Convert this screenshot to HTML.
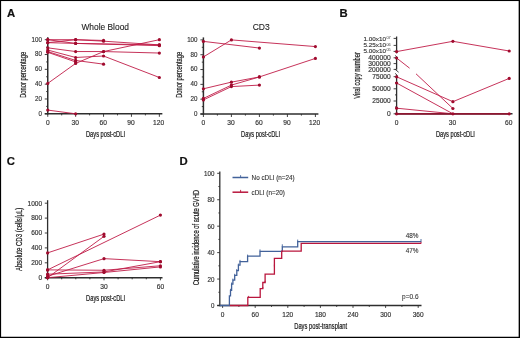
<!DOCTYPE html><html><head><meta charset="utf-8"><style>html,body{margin:0;padding:0;background:#fff;}svg{display:block;will-change:transform;font-family:"Liberation Sans",sans-serif;}</style></head><body>
<svg width="520" height="338" viewBox="0 0 520 338">
<rect x="0" y="0" width="520" height="338" fill="#fff"/>
<text x="6.9" y="16.5" font-size="11.3" text-anchor="start" fill="#111" stroke="#111" stroke-width="0.2" font-weight="bold">A</text>
<text x="339.6" y="16.8" font-size="11.3" text-anchor="start" fill="#111" stroke="#111" stroke-width="0.2" font-weight="bold">B</text>
<text x="6.8" y="164.8" font-size="11.3" text-anchor="start" fill="#111" stroke="#111" stroke-width="0.2" font-weight="bold">C</text>
<text x="179.6" y="164.8" font-size="11.3" text-anchor="start" fill="#111" stroke="#111" stroke-width="0.2" font-weight="bold">D</text>
<line x1="47.75" y1="37.2" x2="47.75" y2="114.6" stroke="#2e2e2e" stroke-width="1.5"/>
<line x1="44.75" y1="113.8" x2="162.35" y2="113.8" stroke="#2e2e2e" stroke-width="1.6"/>
<line x1="44.75" y1="113.8" x2="47.75" y2="113.8" stroke="#2e2e2e" stroke-width="0.9"/>
<line x1="46.15" y1="106.39" x2="47.75" y2="106.39" stroke="#2e2e2e" stroke-width="0.9"/>
<line x1="44.75" y1="98.98" x2="47.75" y2="98.98" stroke="#2e2e2e" stroke-width="0.9"/>
<line x1="46.15" y1="91.57" x2="47.75" y2="91.57" stroke="#2e2e2e" stroke-width="0.9"/>
<line x1="44.75" y1="84.16" x2="47.75" y2="84.16" stroke="#2e2e2e" stroke-width="0.9"/>
<line x1="46.15" y1="76.75" x2="47.75" y2="76.75" stroke="#2e2e2e" stroke-width="0.9"/>
<line x1="44.75" y1="69.34" x2="47.75" y2="69.34" stroke="#2e2e2e" stroke-width="0.9"/>
<line x1="46.15" y1="61.93" x2="47.75" y2="61.93" stroke="#2e2e2e" stroke-width="0.9"/>
<line x1="44.75" y1="54.52" x2="47.75" y2="54.52" stroke="#2e2e2e" stroke-width="0.9"/>
<line x1="46.15" y1="47.11" x2="47.75" y2="47.11" stroke="#2e2e2e" stroke-width="0.9"/>
<line x1="44.75" y1="39.7" x2="47.75" y2="39.7" stroke="#2e2e2e" stroke-width="0.9"/>
<line x1="47.75" y1="113.8" x2="47.75" y2="116.8" stroke="#2e2e2e" stroke-width="0.9"/>
<line x1="61.7" y1="113.8" x2="61.7" y2="115.4" stroke="#2e2e2e" stroke-width="0.9"/>
<line x1="75.65" y1="113.8" x2="75.65" y2="116.8" stroke="#2e2e2e" stroke-width="0.9"/>
<line x1="89.6" y1="113.8" x2="89.6" y2="115.4" stroke="#2e2e2e" stroke-width="0.9"/>
<line x1="103.55" y1="113.8" x2="103.55" y2="116.8" stroke="#2e2e2e" stroke-width="0.9"/>
<line x1="117.5" y1="113.8" x2="117.5" y2="115.4" stroke="#2e2e2e" stroke-width="0.9"/>
<line x1="131.45" y1="113.8" x2="131.45" y2="116.8" stroke="#2e2e2e" stroke-width="0.9"/>
<line x1="145.4" y1="113.8" x2="145.4" y2="115.4" stroke="#2e2e2e" stroke-width="0.9"/>
<line x1="159.35" y1="113.8" x2="159.35" y2="116.8" stroke="#2e2e2e" stroke-width="0.9"/>
<text x="41.85" y="115.69" font-size="6.4" text-anchor="end" fill="#333333" stroke="#333333" stroke-width="0.16" textLength="3.45" lengthAdjust="spacingAndGlyphs">0</text>
<text x="41.85" y="100.87" font-size="6.4" text-anchor="end" fill="#333333" stroke="#333333" stroke-width="0.16" textLength="6.9" lengthAdjust="spacingAndGlyphs">20</text>
<text x="41.85" y="86.05" font-size="6.4" text-anchor="end" fill="#333333" stroke="#333333" stroke-width="0.16" textLength="6.9" lengthAdjust="spacingAndGlyphs">40</text>
<text x="41.85" y="71.23" font-size="6.4" text-anchor="end" fill="#333333" stroke="#333333" stroke-width="0.16" textLength="6.9" lengthAdjust="spacingAndGlyphs">60</text>
<text x="41.85" y="56.41" font-size="6.4" text-anchor="end" fill="#333333" stroke="#333333" stroke-width="0.16" textLength="6.9" lengthAdjust="spacingAndGlyphs">80</text>
<text x="41.85" y="41.59" font-size="6.4" text-anchor="end" fill="#333333" stroke="#333333" stroke-width="0.16" textLength="10.35" lengthAdjust="spacingAndGlyphs">100</text>
<text x="47.75" y="125.09" font-size="6.4" text-anchor="middle" fill="#333333" stroke="#333333" stroke-width="0.16" textLength="3.7" lengthAdjust="spacingAndGlyphs">0</text>
<text x="75.25" y="125.09" font-size="6.4" text-anchor="middle" fill="#333333" stroke="#333333" stroke-width="0.16" textLength="7.4" lengthAdjust="spacingAndGlyphs">30</text>
<text x="103.15" y="125.09" font-size="6.4" text-anchor="middle" fill="#333333" stroke="#333333" stroke-width="0.16" textLength="7.4" lengthAdjust="spacingAndGlyphs">60</text>
<text x="131.05" y="125.09" font-size="6.4" text-anchor="middle" fill="#333333" stroke="#333333" stroke-width="0.16" textLength="7.4" lengthAdjust="spacingAndGlyphs">90</text>
<text x="158.55" y="125.09" font-size="6.4" text-anchor="middle" fill="#333333" stroke="#333333" stroke-width="0.16" textLength="11.1" lengthAdjust="spacingAndGlyphs">120</text>
<polyline points="47.75,39.7 75.65,39.7 103.55,41.18 159.35,44.89" fill="none" stroke="#c01c47" stroke-width="0.9" stroke-linejoin="round"/>
<polyline points="47.75,42.66 75.65,39.7 103.55,40.44" fill="none" stroke="#c01c47" stroke-width="0.9" stroke-linejoin="round"/>
<polyline points="47.75,39.7 75.65,43.41 159.35,44.89" fill="none" stroke="#c01c47" stroke-width="0.9" stroke-linejoin="round"/>
<polyline points="47.75,42.66 75.65,43.41 159.35,45.63" fill="none" stroke="#c01c47" stroke-width="0.9" stroke-linejoin="round"/>
<polyline points="47.75,47.85 75.65,51.56 103.55,51.56 159.35,53.04" fill="none" stroke="#c01c47" stroke-width="0.9" stroke-linejoin="round"/>
<polyline points="47.75,50.07 75.65,57.48 103.55,56 159.35,77.49" fill="none" stroke="#c01c47" stroke-width="0.9" stroke-linejoin="round"/>
<polyline points="47.75,51.56 75.65,60.45 103.55,64.15" fill="none" stroke="#c01c47" stroke-width="0.9" stroke-linejoin="round"/>
<polyline points="47.75,52.3 75.65,61.93" fill="none" stroke="#c01c47" stroke-width="0.9" stroke-linejoin="round"/>
<polyline points="47.75,83.42 75.65,63.41 103.55,51.56 159.35,39.7" fill="none" stroke="#c01c47" stroke-width="0.9" stroke-linejoin="round"/>
<polyline points="47.75,110.09 75.65,113.8" fill="none" stroke="#c01c47" stroke-width="0.9" stroke-linejoin="round"/>
<circle cx="47.75" cy="39.7" r="1.6" fill="#a00b2e"/>
<circle cx="75.65" cy="39.7" r="1.6" fill="#a00b2e"/>
<circle cx="103.55" cy="41.18" r="1.6" fill="#a00b2e"/>
<circle cx="159.35" cy="44.89" r="1.6" fill="#a00b2e"/>
<circle cx="47.75" cy="42.66" r="1.6" fill="#a00b2e"/>
<circle cx="75.65" cy="39.7" r="1.6" fill="#a00b2e"/>
<circle cx="103.55" cy="40.44" r="1.6" fill="#a00b2e"/>
<circle cx="47.75" cy="39.7" r="1.6" fill="#a00b2e"/>
<circle cx="75.65" cy="43.41" r="1.6" fill="#a00b2e"/>
<circle cx="159.35" cy="44.89" r="1.6" fill="#a00b2e"/>
<circle cx="47.75" cy="42.66" r="1.6" fill="#a00b2e"/>
<circle cx="75.65" cy="43.41" r="1.6" fill="#a00b2e"/>
<circle cx="159.35" cy="45.63" r="1.6" fill="#a00b2e"/>
<circle cx="47.75" cy="47.85" r="1.6" fill="#a00b2e"/>
<circle cx="75.65" cy="51.56" r="1.6" fill="#a00b2e"/>
<circle cx="103.55" cy="51.56" r="1.6" fill="#a00b2e"/>
<circle cx="159.35" cy="53.04" r="1.6" fill="#a00b2e"/>
<circle cx="47.75" cy="50.07" r="1.6" fill="#a00b2e"/>
<circle cx="75.65" cy="57.48" r="1.6" fill="#a00b2e"/>
<circle cx="103.55" cy="56" r="1.6" fill="#a00b2e"/>
<circle cx="159.35" cy="77.49" r="1.6" fill="#a00b2e"/>
<circle cx="47.75" cy="51.56" r="1.6" fill="#a00b2e"/>
<circle cx="75.65" cy="60.45" r="1.6" fill="#a00b2e"/>
<circle cx="103.55" cy="64.15" r="1.6" fill="#a00b2e"/>
<circle cx="47.75" cy="52.3" r="1.6" fill="#a00b2e"/>
<circle cx="75.65" cy="61.93" r="1.6" fill="#a00b2e"/>
<circle cx="47.75" cy="83.42" r="1.6" fill="#a00b2e"/>
<circle cx="75.65" cy="63.41" r="1.6" fill="#a00b2e"/>
<circle cx="103.55" cy="51.56" r="1.6" fill="#a00b2e"/>
<circle cx="159.35" cy="39.7" r="1.6" fill="#a00b2e"/>
<circle cx="47.75" cy="110.09" r="1.6" fill="#a00b2e"/>
<circle cx="75.65" cy="113.8" r="1.6" fill="#a00b2e"/>
<text x="81.4" y="30.2" font-size="8.4" text-anchor="start" fill="#222" stroke="#222" stroke-width="0.1" textLength="47.6" lengthAdjust="spacingAndGlyphs">Whole Blood</text>
<text x="25.71" y="74.8" font-size="8.4" text-anchor="middle" fill="#1e1e1e" stroke="#1e1e1e" stroke-width="0.22" textLength="46" lengthAdjust="spacingAndGlyphs" transform="rotate(-90 25.71 74.8)">Donor percentage</text>
<text x="105.5" y="137.3" font-size="8.2" text-anchor="middle" fill="#1e1e1e" stroke="#1e1e1e" stroke-width="0.22" textLength="39" lengthAdjust="spacingAndGlyphs">Days post-cDLI</text>
<line x1="203.4" y1="37.4" x2="203.4" y2="114.8" stroke="#2e2e2e" stroke-width="1.5"/>
<line x1="200.4" y1="114" x2="318.4" y2="114" stroke="#2e2e2e" stroke-width="1.6"/>
<line x1="200.4" y1="114" x2="203.4" y2="114" stroke="#2e2e2e" stroke-width="0.9"/>
<line x1="201.8" y1="106.59" x2="203.4" y2="106.59" stroke="#2e2e2e" stroke-width="0.9"/>
<line x1="200.4" y1="99.18" x2="203.4" y2="99.18" stroke="#2e2e2e" stroke-width="0.9"/>
<line x1="201.8" y1="91.77" x2="203.4" y2="91.77" stroke="#2e2e2e" stroke-width="0.9"/>
<line x1="200.4" y1="84.36" x2="203.4" y2="84.36" stroke="#2e2e2e" stroke-width="0.9"/>
<line x1="201.8" y1="76.95" x2="203.4" y2="76.95" stroke="#2e2e2e" stroke-width="0.9"/>
<line x1="200.4" y1="69.54" x2="203.4" y2="69.54" stroke="#2e2e2e" stroke-width="0.9"/>
<line x1="201.8" y1="62.13" x2="203.4" y2="62.13" stroke="#2e2e2e" stroke-width="0.9"/>
<line x1="200.4" y1="54.72" x2="203.4" y2="54.72" stroke="#2e2e2e" stroke-width="0.9"/>
<line x1="201.8" y1="47.31" x2="203.4" y2="47.31" stroke="#2e2e2e" stroke-width="0.9"/>
<line x1="200.4" y1="39.9" x2="203.4" y2="39.9" stroke="#2e2e2e" stroke-width="0.9"/>
<line x1="203.4" y1="114" x2="203.4" y2="117" stroke="#2e2e2e" stroke-width="0.9"/>
<line x1="217.4" y1="114" x2="217.4" y2="115.6" stroke="#2e2e2e" stroke-width="0.9"/>
<line x1="231.4" y1="114" x2="231.4" y2="117" stroke="#2e2e2e" stroke-width="0.9"/>
<line x1="245.4" y1="114" x2="245.4" y2="115.6" stroke="#2e2e2e" stroke-width="0.9"/>
<line x1="259.4" y1="114" x2="259.4" y2="117" stroke="#2e2e2e" stroke-width="0.9"/>
<line x1="273.4" y1="114" x2="273.4" y2="115.6" stroke="#2e2e2e" stroke-width="0.9"/>
<line x1="287.4" y1="114" x2="287.4" y2="117" stroke="#2e2e2e" stroke-width="0.9"/>
<line x1="301.4" y1="114" x2="301.4" y2="115.6" stroke="#2e2e2e" stroke-width="0.9"/>
<line x1="315.4" y1="114" x2="315.4" y2="117" stroke="#2e2e2e" stroke-width="0.9"/>
<text x="197.5" y="115.89" font-size="6.4" text-anchor="end" fill="#333333" stroke="#333333" stroke-width="0.16" textLength="3.45" lengthAdjust="spacingAndGlyphs">0</text>
<text x="197.5" y="101.07" font-size="6.4" text-anchor="end" fill="#333333" stroke="#333333" stroke-width="0.16" textLength="6.9" lengthAdjust="spacingAndGlyphs">20</text>
<text x="197.5" y="86.25" font-size="6.4" text-anchor="end" fill="#333333" stroke="#333333" stroke-width="0.16" textLength="6.9" lengthAdjust="spacingAndGlyphs">40</text>
<text x="197.5" y="71.43" font-size="6.4" text-anchor="end" fill="#333333" stroke="#333333" stroke-width="0.16" textLength="6.9" lengthAdjust="spacingAndGlyphs">60</text>
<text x="197.5" y="56.61" font-size="6.4" text-anchor="end" fill="#333333" stroke="#333333" stroke-width="0.16" textLength="6.9" lengthAdjust="spacingAndGlyphs">80</text>
<text x="197.5" y="41.79" font-size="6.4" text-anchor="end" fill="#333333" stroke="#333333" stroke-width="0.16" textLength="10.35" lengthAdjust="spacingAndGlyphs">100</text>
<text x="203.4" y="125.09" font-size="6.4" text-anchor="middle" fill="#333333" stroke="#333333" stroke-width="0.16" textLength="3.7" lengthAdjust="spacingAndGlyphs">0</text>
<text x="231" y="125.09" font-size="6.4" text-anchor="middle" fill="#333333" stroke="#333333" stroke-width="0.16" textLength="7.4" lengthAdjust="spacingAndGlyphs">30</text>
<text x="259" y="125.09" font-size="6.4" text-anchor="middle" fill="#333333" stroke="#333333" stroke-width="0.16" textLength="7.4" lengthAdjust="spacingAndGlyphs">60</text>
<text x="287" y="125.09" font-size="6.4" text-anchor="middle" fill="#333333" stroke="#333333" stroke-width="0.16" textLength="7.4" lengthAdjust="spacingAndGlyphs">90</text>
<text x="314.6" y="125.09" font-size="6.4" text-anchor="middle" fill="#333333" stroke="#333333" stroke-width="0.16" textLength="11.1" lengthAdjust="spacingAndGlyphs">120</text>
<polyline points="203.4,41.38 259.4,48.05" fill="none" stroke="#c01c47" stroke-width="0.9" stroke-linejoin="round"/>
<polyline points="203.4,56.94 231.4,39.9 315.4,46.57" fill="none" stroke="#c01c47" stroke-width="0.9" stroke-linejoin="round"/>
<polyline points="203.4,88.81 231.4,82.14 259.4,76.95 315.4,58.42" fill="none" stroke="#c01c47" stroke-width="0.9" stroke-linejoin="round"/>
<polyline points="203.4,98.44 231.4,85.1 259.4,76.95" fill="none" stroke="#c01c47" stroke-width="0.9" stroke-linejoin="round"/>
<polyline points="203.4,99.92 231.4,86.58 259.4,85.1" fill="none" stroke="#c01c47" stroke-width="0.9" stroke-linejoin="round"/>
<circle cx="203.4" cy="41.38" r="1.6" fill="#a00b2e"/>
<circle cx="259.4" cy="48.05" r="1.6" fill="#a00b2e"/>
<circle cx="203.4" cy="56.94" r="1.6" fill="#a00b2e"/>
<circle cx="231.4" cy="39.9" r="1.6" fill="#a00b2e"/>
<circle cx="315.4" cy="46.57" r="1.6" fill="#a00b2e"/>
<circle cx="203.4" cy="88.81" r="1.6" fill="#a00b2e"/>
<circle cx="231.4" cy="82.14" r="1.6" fill="#a00b2e"/>
<circle cx="259.4" cy="76.95" r="1.6" fill="#a00b2e"/>
<circle cx="315.4" cy="58.42" r="1.6" fill="#a00b2e"/>
<circle cx="203.4" cy="98.44" r="1.6" fill="#a00b2e"/>
<circle cx="231.4" cy="85.1" r="1.6" fill="#a00b2e"/>
<circle cx="259.4" cy="76.95" r="1.6" fill="#a00b2e"/>
<circle cx="203.4" cy="99.92" r="1.6" fill="#a00b2e"/>
<circle cx="231.4" cy="86.58" r="1.6" fill="#a00b2e"/>
<circle cx="259.4" cy="85.1" r="1.6" fill="#a00b2e"/>
<text x="252.7" y="30.2" font-size="8.4" text-anchor="start" fill="#222" stroke="#222" stroke-width="0.1" textLength="17.1" lengthAdjust="spacingAndGlyphs">CD3</text>
<text x="181.91" y="74.8" font-size="8.4" text-anchor="middle" fill="#1e1e1e" stroke="#1e1e1e" stroke-width="0.22" textLength="46" lengthAdjust="spacingAndGlyphs" transform="rotate(-90 181.91 74.8)">Donor percentage</text>
<text x="260.6" y="137.3" font-size="8.2" text-anchor="middle" fill="#1e1e1e" stroke="#1e1e1e" stroke-width="0.22" textLength="39" lengthAdjust="spacingAndGlyphs">Days post-cDLI</text>
<line x1="396.6" y1="36.5" x2="396.6" y2="53.3" stroke="#2e2e2e" stroke-width="1.3"/>
<line x1="396.6" y1="57.2" x2="396.6" y2="69.5" stroke="#2e2e2e" stroke-width="1.3"/>
<line x1="396.6" y1="75.2" x2="396.6" y2="114.6" stroke="#2e2e2e" stroke-width="1.3"/>
<line x1="395.1" y1="55.5" x2="397.9" y2="57.7" stroke="#2e2e2e" stroke-width="0.9"/>
<line x1="395" y1="69.2" x2="398.6" y2="72.2" stroke="#2e2e2e" stroke-width="0.9"/>
<line x1="395.1" y1="73.4" x2="397.5" y2="75.5" stroke="#2e2e2e" stroke-width="0.9"/>
<line x1="393.6" y1="38.4" x2="396.6" y2="38.4" stroke="#2e2e2e" stroke-width="0.9"/>
<line x1="393.6" y1="45.4" x2="396.6" y2="45.4" stroke="#2e2e2e" stroke-width="0.9"/>
<line x1="393.6" y1="51.4" x2="396.6" y2="51.4" stroke="#2e2e2e" stroke-width="0.9"/>
<line x1="393.6" y1="57.8" x2="396.6" y2="57.8" stroke="#2e2e2e" stroke-width="0.9"/>
<line x1="393.6" y1="63.6" x2="396.6" y2="63.6" stroke="#2e2e2e" stroke-width="0.9"/>
<line x1="393.6" y1="69.4" x2="396.6" y2="69.4" stroke="#2e2e2e" stroke-width="0.9"/>
<line x1="393.6" y1="76.7" x2="396.6" y2="76.7" stroke="#2e2e2e" stroke-width="0.9"/>
<line x1="393.6" y1="88.8" x2="396.6" y2="88.8" stroke="#2e2e2e" stroke-width="0.9"/>
<line x1="393.6" y1="101" x2="396.6" y2="101" stroke="#2e2e2e" stroke-width="0.9"/>
<line x1="393.6" y1="113.8" x2="396.6" y2="113.8" stroke="#2e2e2e" stroke-width="0.9"/>
<line x1="395" y1="82.8" x2="396.6" y2="82.8" stroke="#2e2e2e" stroke-width="0.9"/>
<line x1="395" y1="94.9" x2="396.6" y2="94.9" stroke="#2e2e2e" stroke-width="0.9"/>
<line x1="395" y1="107" x2="396.6" y2="107" stroke="#2e2e2e" stroke-width="0.9"/>
<line x1="395.2" y1="113.8" x2="512.5" y2="113.8" stroke="#2e2e2e" stroke-width="1.6"/>
<text x="386" y="40.98" font-size="6.1" text-anchor="end" fill="#333333" stroke="#333333" stroke-width="0.14" textLength="22.4" lengthAdjust="spacingAndGlyphs">1.00x10</text>
<text x="390.8" y="39.3" font-size="3.8" text-anchor="end" fill="#333333" textLength="4.4" lengthAdjust="spacingAndGlyphs">07</text>
<text x="386" y="47.18" font-size="6.1" text-anchor="end" fill="#333333" stroke="#333333" stroke-width="0.14" textLength="22.4" lengthAdjust="spacingAndGlyphs">5.25x10</text>
<text x="390.8" y="45.5" font-size="3.8" text-anchor="end" fill="#333333" textLength="4.4" lengthAdjust="spacingAndGlyphs">06</text>
<text x="386" y="52.58" font-size="6.1" text-anchor="end" fill="#333333" stroke="#333333" stroke-width="0.14" textLength="22.4" lengthAdjust="spacingAndGlyphs">5.00x10</text>
<text x="390.8" y="50.9" font-size="3.8" text-anchor="end" fill="#333333" textLength="4.4" lengthAdjust="spacingAndGlyphs">05</text>
<text x="390.7" y="59.69" font-size="6.4" text-anchor="end" fill="#333333" stroke="#333333" stroke-width="0.16" textLength="22.4" lengthAdjust="spacingAndGlyphs">400000</text>
<text x="390.7" y="65.89" font-size="6.4" text-anchor="end" fill="#333333" stroke="#333333" stroke-width="0.16" textLength="22.4" lengthAdjust="spacingAndGlyphs">300000</text>
<text x="390.7" y="72.09" font-size="6.4" text-anchor="end" fill="#333333" stroke="#333333" stroke-width="0.16" textLength="22.4" lengthAdjust="spacingAndGlyphs">200000</text>
<text x="390.7" y="78.69" font-size="6.4" text-anchor="end" fill="#333333" stroke="#333333" stroke-width="0.16" textLength="18.4" lengthAdjust="spacingAndGlyphs">75000</text>
<text x="390.7" y="90.89" font-size="6.4" text-anchor="end" fill="#333333" stroke="#333333" stroke-width="0.16" textLength="18.4" lengthAdjust="spacingAndGlyphs">50000</text>
<text x="390.7" y="103.29" font-size="6.4" text-anchor="end" fill="#333333" stroke="#333333" stroke-width="0.16" textLength="18.4" lengthAdjust="spacingAndGlyphs">25000</text>
<text x="390.7" y="116.09" font-size="6.4" text-anchor="end" fill="#333333" stroke="#333333" stroke-width="0.16" textLength="3.7" lengthAdjust="spacingAndGlyphs">0</text>
<text x="396.6" y="125.49" font-size="6.4" text-anchor="middle" fill="#333333" stroke="#333333" stroke-width="0.16" textLength="3.7" lengthAdjust="spacingAndGlyphs">0</text>
<text x="452.5" y="125.49" font-size="6.4" text-anchor="middle" fill="#333333" stroke="#333333" stroke-width="0.16" textLength="7.4" lengthAdjust="spacingAndGlyphs">30</text>
<text x="508.8" y="125.49" font-size="6.4" text-anchor="middle" fill="#333333" stroke="#333333" stroke-width="0.16" textLength="7.4" lengthAdjust="spacingAndGlyphs">60</text>
<text x="360.21" y="75.4" font-size="8.4" text-anchor="middle" fill="#1e1e1e" stroke="#1e1e1e" stroke-width="0.22" textLength="46.6" lengthAdjust="spacingAndGlyphs" transform="rotate(-90 360.21 75.4)">Viral copy number</text>
<text x="455.4" y="137.3" font-size="8.2" text-anchor="middle" fill="#1e1e1e" stroke="#1e1e1e" stroke-width="0.22" textLength="39" lengthAdjust="spacingAndGlyphs">Days post-cDLI</text>
<polyline points="396.6,51.6 452.9,41.3 509.2,51" fill="none" stroke="#c01c47" stroke-width="0.9" stroke-linejoin="round"/>
<polyline points="396.6,58 409.6,68.2" fill="none" stroke="#c01c47" stroke-width="0.9" stroke-linejoin="round"/>
<polyline points="416,73.8 452.9,108.5" fill="none" stroke="#c01c47" stroke-width="0.9" stroke-linejoin="round"/>
<polyline points="396.6,76.8 452.9,101.7 509.2,78.4" fill="none" stroke="#c01c47" stroke-width="0.9" stroke-linejoin="round"/>
<polyline points="396.6,83 452.9,113.8" fill="none" stroke="#c01c47" stroke-width="0.9" stroke-linejoin="round"/>
<polyline points="396.6,108.2 452.9,113.8" fill="none" stroke="#c01c47" stroke-width="0.9" stroke-linejoin="round"/>
<line x1="396.6" y1="113.8" x2="509.2" y2="113.8" stroke="#8e1631" stroke-width="1.8"/>
<circle cx="396.6" cy="51.6" r="1.6" fill="#a00b2e"/>
<circle cx="452.9" cy="41.3" r="1.6" fill="#a00b2e"/>
<circle cx="509.2" cy="51" r="1.6" fill="#a00b2e"/>
<circle cx="396.6" cy="58" r="1.6" fill="#a00b2e"/>
<circle cx="452.9" cy="108.5" r="1.6" fill="#a00b2e"/>
<circle cx="396.6" cy="76.8" r="1.6" fill="#a00b2e"/>
<circle cx="452.9" cy="101.7" r="1.6" fill="#a00b2e"/>
<circle cx="509.2" cy="78.4" r="1.6" fill="#a00b2e"/>
<circle cx="396.6" cy="83" r="1.6" fill="#a00b2e"/>
<circle cx="396.6" cy="108.2" r="1.6" fill="#a00b2e"/>
<circle cx="396.6" cy="113.8" r="1.6" fill="#a00b2e"/>
<circle cx="452.9" cy="113.8" r="1.6" fill="#a00b2e"/>
<circle cx="509.2" cy="113.8" r="1.6" fill="#a00b2e"/>
<line x1="47.6" y1="200.2" x2="47.6" y2="278.5" stroke="#2e2e2e" stroke-width="1.3"/>
<line x1="44.8" y1="277.7" x2="162.5" y2="277.7" stroke="#2e2e2e" stroke-width="1.6"/>
<line x1="44.8" y1="277.7" x2="47.6" y2="277.7" stroke="#2e2e2e" stroke-width="0.9"/>
<text x="42.1" y="280.09" font-size="6.4" text-anchor="end" fill="#333333" stroke="#333333" stroke-width="0.16" textLength="3.65" lengthAdjust="spacingAndGlyphs">0</text>
<line x1="44.8" y1="262.8" x2="47.6" y2="262.8" stroke="#2e2e2e" stroke-width="0.9"/>
<text x="42.1" y="265.19" font-size="6.4" text-anchor="end" fill="#333333" stroke="#333333" stroke-width="0.16" textLength="10.95" lengthAdjust="spacingAndGlyphs">200</text>
<line x1="44.8" y1="247.9" x2="47.6" y2="247.9" stroke="#2e2e2e" stroke-width="0.9"/>
<text x="42.1" y="250.29" font-size="6.4" text-anchor="end" fill="#333333" stroke="#333333" stroke-width="0.16" textLength="10.95" lengthAdjust="spacingAndGlyphs">400</text>
<line x1="44.8" y1="233" x2="47.6" y2="233" stroke="#2e2e2e" stroke-width="0.9"/>
<text x="42.1" y="235.39" font-size="6.4" text-anchor="end" fill="#333333" stroke="#333333" stroke-width="0.16" textLength="10.95" lengthAdjust="spacingAndGlyphs">600</text>
<line x1="44.8" y1="218.1" x2="47.6" y2="218.1" stroke="#2e2e2e" stroke-width="0.9"/>
<text x="42.1" y="220.49" font-size="6.4" text-anchor="end" fill="#333333" stroke="#333333" stroke-width="0.16" textLength="10.95" lengthAdjust="spacingAndGlyphs">800</text>
<line x1="44.8" y1="203.2" x2="47.6" y2="203.2" stroke="#2e2e2e" stroke-width="0.9"/>
<text x="42.1" y="205.59" font-size="6.4" text-anchor="end" fill="#333333" stroke="#333333" stroke-width="0.16" textLength="14.6" lengthAdjust="spacingAndGlyphs">1000</text>
<line x1="47.6" y1="277.7" x2="47.6" y2="280.3" stroke="#2e2e2e" stroke-width="0.9"/>
<line x1="61.7" y1="277.7" x2="61.7" y2="279.3" stroke="#2e2e2e" stroke-width="0.9"/>
<line x1="75.8" y1="277.7" x2="75.8" y2="279.3" stroke="#2e2e2e" stroke-width="0.9"/>
<line x1="89.9" y1="277.7" x2="89.9" y2="279.3" stroke="#2e2e2e" stroke-width="0.9"/>
<line x1="104" y1="277.7" x2="104" y2="280.3" stroke="#2e2e2e" stroke-width="0.9"/>
<line x1="118.1" y1="277.7" x2="118.1" y2="279.3" stroke="#2e2e2e" stroke-width="0.9"/>
<line x1="132.2" y1="277.7" x2="132.2" y2="279.3" stroke="#2e2e2e" stroke-width="0.9"/>
<line x1="146.3" y1="277.7" x2="146.3" y2="279.3" stroke="#2e2e2e" stroke-width="0.9"/>
<line x1="160.4" y1="277.7" x2="160.4" y2="280.3" stroke="#2e2e2e" stroke-width="0.9"/>
<text x="47.6" y="289.29" font-size="6.4" text-anchor="middle" fill="#333333" stroke="#333333" stroke-width="0.16" textLength="3.7" lengthAdjust="spacingAndGlyphs">0</text>
<text x="104" y="289.29" font-size="6.4" text-anchor="middle" fill="#333333" stroke="#333333" stroke-width="0.16" textLength="7.4" lengthAdjust="spacingAndGlyphs">30</text>
<text x="160.4" y="289.29" font-size="6.4" text-anchor="middle" fill="#333333" stroke="#333333" stroke-width="0.16" textLength="7.4" lengthAdjust="spacingAndGlyphs">60</text>
<text x="22.08" y="239.4" font-size="8.6" text-anchor="middle" fill="#1e1e1e" stroke="#1e1e1e" stroke-width="0.22" textLength="63.4" lengthAdjust="spacingAndGlyphs" transform="rotate(-90 22.08 239.4)">Absolute CD3 (cells/μL)</text>
<text x="105.6" y="301" font-size="8.2" text-anchor="middle" fill="#1e1e1e" stroke="#1e1e1e" stroke-width="0.22" textLength="39" lengthAdjust="spacingAndGlyphs">Days post-cDLI</text>
<polyline points="47.6,252.89 104,234.12" fill="none" stroke="#c01c47" stroke-width="0.9" stroke-linejoin="round"/>
<polyline points="47.6,269.88 160.4,215.12" fill="none" stroke="#c01c47" stroke-width="0.9" stroke-linejoin="round"/>
<polyline points="47.6,277.7 104,236.35" fill="none" stroke="#c01c47" stroke-width="0.9" stroke-linejoin="round"/>
<polyline points="47.6,276.21 104,258.63 160.4,261.68" fill="none" stroke="#c01c47" stroke-width="0.9" stroke-linejoin="round"/>
<polyline points="47.6,269.88 104,270.25 160.4,265.78" fill="none" stroke="#c01c47" stroke-width="0.9" stroke-linejoin="round"/>
<polyline points="47.6,274.2 104,271.96 160.4,261.68" fill="none" stroke="#c01c47" stroke-width="0.9" stroke-linejoin="round"/>
<polyline points="47.6,277.7 104,272.49 160.4,266.9" fill="none" stroke="#c01c47" stroke-width="0.9" stroke-linejoin="round"/>
<circle cx="47.6" cy="252.89" r="1.6" fill="#a00b2e"/>
<circle cx="104" cy="234.12" r="1.6" fill="#a00b2e"/>
<circle cx="47.6" cy="269.88" r="1.6" fill="#a00b2e"/>
<circle cx="160.4" cy="215.12" r="1.6" fill="#a00b2e"/>
<circle cx="47.6" cy="277.7" r="1.6" fill="#a00b2e"/>
<circle cx="104" cy="236.35" r="1.6" fill="#a00b2e"/>
<circle cx="47.6" cy="276.21" r="1.6" fill="#a00b2e"/>
<circle cx="104" cy="258.63" r="1.6" fill="#a00b2e"/>
<circle cx="160.4" cy="261.68" r="1.6" fill="#a00b2e"/>
<circle cx="47.6" cy="269.88" r="1.6" fill="#a00b2e"/>
<circle cx="104" cy="270.25" r="1.6" fill="#a00b2e"/>
<circle cx="160.4" cy="265.78" r="1.6" fill="#a00b2e"/>
<circle cx="47.6" cy="274.2" r="1.6" fill="#a00b2e"/>
<circle cx="104" cy="271.96" r="1.6" fill="#a00b2e"/>
<circle cx="160.4" cy="261.68" r="1.6" fill="#a00b2e"/>
<circle cx="47.6" cy="277.7" r="1.6" fill="#a00b2e"/>
<circle cx="104" cy="272.49" r="1.6" fill="#a00b2e"/>
<circle cx="160.4" cy="266.9" r="1.6" fill="#a00b2e"/>
<line x1="219.8" y1="171.6" x2="219.8" y2="306.3" stroke="#2e2e2e" stroke-width="1.3"/>
<line x1="217.2" y1="305.5" x2="421.5" y2="305.5" stroke="#2e2e2e" stroke-width="1.5"/>
<line x1="217.2" y1="305.5" x2="219.8" y2="305.5" stroke="#2e2e2e" stroke-width="0.9"/>
<line x1="218.4" y1="292.28" x2="219.8" y2="292.28" stroke="#2e2e2e" stroke-width="0.9"/>
<line x1="217.2" y1="279.06" x2="219.8" y2="279.06" stroke="#2e2e2e" stroke-width="0.9"/>
<line x1="218.4" y1="265.84" x2="219.8" y2="265.84" stroke="#2e2e2e" stroke-width="0.9"/>
<line x1="217.2" y1="252.62" x2="219.8" y2="252.62" stroke="#2e2e2e" stroke-width="0.9"/>
<line x1="218.4" y1="239.4" x2="219.8" y2="239.4" stroke="#2e2e2e" stroke-width="0.9"/>
<line x1="217.2" y1="226.18" x2="219.8" y2="226.18" stroke="#2e2e2e" stroke-width="0.9"/>
<line x1="218.4" y1="212.96" x2="219.8" y2="212.96" stroke="#2e2e2e" stroke-width="0.9"/>
<line x1="217.2" y1="199.74" x2="219.8" y2="199.74" stroke="#2e2e2e" stroke-width="0.9"/>
<line x1="218.4" y1="186.52" x2="219.8" y2="186.52" stroke="#2e2e2e" stroke-width="0.9"/>
<line x1="217.2" y1="173.3" x2="219.8" y2="173.3" stroke="#2e2e2e" stroke-width="0.9"/>
<text x="214.4" y="307.99" font-size="6.4" text-anchor="end" fill="#333333" stroke="#333333" stroke-width="0.16" textLength="3.45" lengthAdjust="spacingAndGlyphs">0</text>
<text x="214.4" y="281.55" font-size="6.4" text-anchor="end" fill="#333333" stroke="#333333" stroke-width="0.16" textLength="6.9" lengthAdjust="spacingAndGlyphs">20</text>
<text x="214.4" y="255.11" font-size="6.4" text-anchor="end" fill="#333333" stroke="#333333" stroke-width="0.16" textLength="6.9" lengthAdjust="spacingAndGlyphs">40</text>
<text x="214.4" y="228.67" font-size="6.4" text-anchor="end" fill="#333333" stroke="#333333" stroke-width="0.16" textLength="6.9" lengthAdjust="spacingAndGlyphs">60</text>
<text x="214.4" y="202.23" font-size="6.4" text-anchor="end" fill="#333333" stroke="#333333" stroke-width="0.16" textLength="6.9" lengthAdjust="spacingAndGlyphs">80</text>
<text x="214.4" y="175.79" font-size="6.4" text-anchor="end" fill="#333333" stroke="#333333" stroke-width="0.16" textLength="10.35" lengthAdjust="spacingAndGlyphs">100</text>
<line x1="222.6" y1="305.5" x2="222.6" y2="307.9" stroke="#2e2e2e" stroke-width="0.9"/>
<line x1="238.9" y1="305.5" x2="238.9" y2="306.9" stroke="#2e2e2e" stroke-width="0.9"/>
<line x1="255.2" y1="305.5" x2="255.2" y2="307.9" stroke="#2e2e2e" stroke-width="0.9"/>
<line x1="271.5" y1="305.5" x2="271.5" y2="306.9" stroke="#2e2e2e" stroke-width="0.9"/>
<line x1="287.8" y1="305.5" x2="287.8" y2="307.9" stroke="#2e2e2e" stroke-width="0.9"/>
<line x1="304.1" y1="305.5" x2="304.1" y2="306.9" stroke="#2e2e2e" stroke-width="0.9"/>
<line x1="320.4" y1="305.5" x2="320.4" y2="307.9" stroke="#2e2e2e" stroke-width="0.9"/>
<line x1="336.7" y1="305.5" x2="336.7" y2="306.9" stroke="#2e2e2e" stroke-width="0.9"/>
<line x1="353" y1="305.5" x2="353" y2="307.9" stroke="#2e2e2e" stroke-width="0.9"/>
<line x1="369.3" y1="305.5" x2="369.3" y2="306.9" stroke="#2e2e2e" stroke-width="0.9"/>
<line x1="385.6" y1="305.5" x2="385.6" y2="307.9" stroke="#2e2e2e" stroke-width="0.9"/>
<line x1="401.9" y1="305.5" x2="401.9" y2="306.9" stroke="#2e2e2e" stroke-width="0.9"/>
<line x1="418.2" y1="305.5" x2="418.2" y2="307.9" stroke="#2e2e2e" stroke-width="0.9"/>
<text x="222.6" y="316.89" font-size="6.4" text-anchor="middle" fill="#333333" stroke="#333333" stroke-width="0.16" textLength="3.65" lengthAdjust="spacingAndGlyphs">0</text>
<text x="255.2" y="316.89" font-size="6.4" text-anchor="middle" fill="#333333" stroke="#333333" stroke-width="0.16" textLength="7.3" lengthAdjust="spacingAndGlyphs">60</text>
<text x="287.8" y="316.89" font-size="6.4" text-anchor="middle" fill="#333333" stroke="#333333" stroke-width="0.16" textLength="10.95" lengthAdjust="spacingAndGlyphs">120</text>
<text x="320.4" y="316.89" font-size="6.4" text-anchor="middle" fill="#333333" stroke="#333333" stroke-width="0.16" textLength="10.95" lengthAdjust="spacingAndGlyphs">180</text>
<text x="353" y="316.89" font-size="6.4" text-anchor="middle" fill="#333333" stroke="#333333" stroke-width="0.16" textLength="10.95" lengthAdjust="spacingAndGlyphs">240</text>
<text x="385.6" y="316.89" font-size="6.4" text-anchor="middle" fill="#333333" stroke="#333333" stroke-width="0.16" textLength="10.95" lengthAdjust="spacingAndGlyphs">300</text>
<text x="418.2" y="316.89" font-size="6.4" text-anchor="middle" fill="#333333" stroke="#333333" stroke-width="0.16" textLength="10.95" lengthAdjust="spacingAndGlyphs">360</text>
<text x="199.14" y="237.6" font-size="8.2" text-anchor="middle" fill="#1e1e1e" stroke="#1e1e1e" stroke-width="0.22" textLength="95.3" lengthAdjust="spacingAndGlyphs" transform="rotate(-90 199.14 237.6)">Cumulative incidence of acute GVHD</text>
<text x="320.7" y="328.9" font-size="8.2" text-anchor="middle" fill="#1e1e1e" stroke="#1e1e1e" stroke-width="0.22" textLength="52.9" lengthAdjust="spacingAndGlyphs">Days post-transplant</text>
<path d="M219.8,305.5 H229.4 V295.9 H230.5 V290.4 H231.6 V284.1 H232.9 V280.2 H234.7 V275.4 H236.8 V270.7 H238.4 V265.2 H240.0 V261.6 H247.6 V256.1 H260.0 V251.4 H282.3 V246.9 H297.7 V241.6 H421.3" fill="none" stroke="#42629a" stroke-width="1.3"/>
<path d="M229.8,305.5 H247.8 V297.4 H260.2 V288.7 H262.8 V282.5 H265.1 V274.2 H274.4 V258.3 H281.7 V251.2 H301.2 V243.4 H421.3" fill="none" stroke="#b9163d" stroke-width="1.3"/>
<line x1="260" y1="251.4" x2="260" y2="249.4" stroke="#42629a" stroke-width="0.9"/>
<line x1="282.3" y1="246.9" x2="282.3" y2="244.3" stroke="#42629a" stroke-width="0.9"/>
<line x1="297.7" y1="241.6" x2="297.7" y2="239.6" stroke="#42629a" stroke-width="0.9"/>
<line x1="421" y1="241.6" x2="421" y2="239" stroke="#42629a" stroke-width="0.9"/>
<line x1="247.6" y1="256.1" x2="247.6" y2="254.6" stroke="#42629a" stroke-width="0.9"/>
<line x1="240" y1="261.6" x2="240" y2="259.9" stroke="#42629a" stroke-width="0.9"/>
<line x1="238.4" y1="265.2" x2="238.4" y2="263.6" stroke="#42629a" stroke-width="0.9"/>
<line x1="236.8" y1="270.7" x2="236.8" y2="269" stroke="#42629a" stroke-width="0.9"/>
<line x1="234.7" y1="275.4" x2="234.7" y2="273.8" stroke="#42629a" stroke-width="0.9"/>
<line x1="232.9" y1="280.2" x2="232.9" y2="278.6" stroke="#42629a" stroke-width="0.9"/>
<line x1="231.6" y1="284.1" x2="231.6" y2="282.5" stroke="#42629a" stroke-width="0.9"/>
<line x1="230.5" y1="290.4" x2="230.5" y2="288.8" stroke="#42629a" stroke-width="0.9"/>
<line x1="262.8" y1="288.7" x2="262.8" y2="287" stroke="#b9163d" stroke-width="0.9"/>
<line x1="265.1" y1="282.5" x2="265.1" y2="280.8" stroke="#b9163d" stroke-width="0.9"/>
<line x1="274.4" y1="266.5" x2="274.4" y2="264.5" stroke="#b9163d" stroke-width="0.9"/>
<line x1="421" y1="243.2" x2="421" y2="241.8" stroke="#b9163d" stroke-width="0.9"/>
<line x1="248.6" y1="297.4" x2="248.6" y2="295.9" stroke="#b9163d" stroke-width="0.9"/>
<line x1="232.5" y1="177.5" x2="248.2" y2="177.5" stroke="#42629a" stroke-width="1.5"/>
<line x1="240.6" y1="177.5" x2="240.6" y2="175.2" stroke="#42629a" stroke-width="0.9"/>
<line x1="232.5" y1="192.2" x2="248.2" y2="192.2" stroke="#b9163d" stroke-width="1.5"/>
<line x1="240.6" y1="192.2" x2="240.6" y2="189.9" stroke="#b9163d" stroke-width="0.9"/>
<text x="251.6" y="179.8" font-size="6.6" text-anchor="start" fill="#333" stroke="#333" stroke-width="0.12" textLength="43" lengthAdjust="spacingAndGlyphs">No cDLI (n=24)</text>
<text x="251.6" y="194.5" font-size="6.6" text-anchor="start" fill="#333" stroke="#333" stroke-width="0.12" textLength="33.2" lengthAdjust="spacingAndGlyphs">cDLI (n=20)</text>
<text x="418.5" y="238" font-size="6.4" text-anchor="end" fill="#333" stroke="#333" stroke-width="0.1">48%</text>
<text x="418.5" y="252.9" font-size="6.4" text-anchor="end" fill="#333" stroke="#333" stroke-width="0.1">47%</text>
<text x="418.5" y="299.4" font-size="6.5" text-anchor="end" fill="#333" stroke="#333" stroke-width="0.1">p=0.6</text>
<rect x="0" y="0" width="520" height="1.05" fill="#000"/>
<rect x="0" y="0" width="1.1" height="338" fill="#000"/>
<rect x="518.65" y="0" width="1.35" height="338" fill="#000"/>
<rect x="0" y="336.75" width="520" height="1.25" fill="#000"/>
</svg></body></html>
